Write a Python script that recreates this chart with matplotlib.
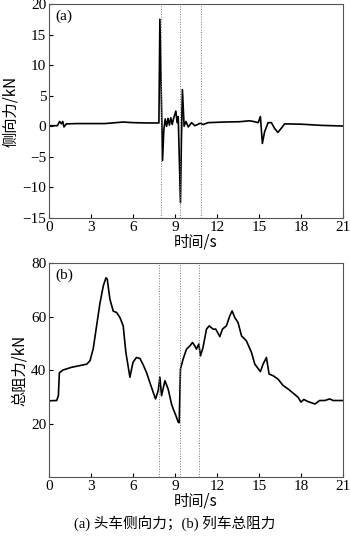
import matplotlib
matplotlib.use("Agg")
import matplotlib.pyplot as plt
import numpy as np

plt.rcParams['font.family'] = ['Liberation Serif', 'Noto Sans CJK SC']
plt.rcParams['mathtext.fontset'] = 'stix'

# (a) lateral force of head car
t_a = [0.0, 0.6, 0.76, 0.88, 0.98, 1.07, 1.24, 2.0, 4.0, 5.3, 6.0, 7.0, 7.85, 7.92, 8.11, 8.2,
       8.3, 8.4, 8.5, 8.6, 8.7, 8.8, 8.9, 9.06, 9.15, 9.23, 9.39, 9.46, 9.53, 9.65, 9.78, 9.95,
       10.18, 10.42, 10.8, 11.0, 11.37, 12.5, 13.6, 14.3, 14.6, 14.94, 15.1, 15.24, 15.4, 15.65,
       15.89, 16.1, 16.35, 16.6, 16.83, 18.0, 19.5, 21.0]
f_a = [0.1, 0.1, 0.8, 0.4, 0.8, -0.1, 0.4, 0.45, 0.45, 0.7, 0.6, 0.55, 0.55, 17.5, -5.6, -0.6,
       1.2, 0.0, 1.3, 0.2, 1.4, 0.3, 1.3, 2.5, 0.6, 1.6, -12.5, -2.0, 6.0, 0.0, 0.8, -0.1,
       0.6, 0.1, 0.5, 0.3, 0.6, 0.7, 0.75, 0.9, 0.8, 0.6, 1.6, -2.8, -0.9, 0.6,
       0.6, -0.3, -1.0, -0.3, 0.4, 0.35, 0.15, 0.05]

# (b) total resistance of train
t_b = [0.0, 0.55, 0.67, 0.74, 1.0, 1.6, 2.7, 2.93, 3.16, 3.4, 3.64, 3.88, 4.07, 4.16, 4.35, 4.59,
       4.83, 5.07, 5.3, 5.49, 5.78, 6.0, 6.25, 6.5, 6.73, 6.97, 7.2, 7.44, 7.61, 7.8, 7.92, 8.04,
       8.28, 8.51, 8.75, 8.87, 9.06, 9.23, 9.3, 9.39, 9.58, 9.82, 10.06, 10.25, 10.42, 10.53, 10.7,
       10.82, 11.0, 11.25, 11.44, 11.72, 11.91, 12.2, 12.39, 12.67, 12.91, 13.08, 13.27, 13.5,
       13.75, 14.1, 14.46, 14.7, 15.1, 15.29, 15.53, 15.72, 16.0, 16.36, 16.72, 17.08, 17.43,
       17.79, 18.0, 18.2, 18.5, 19.0, 19.33, 19.7, 20.05, 20.3, 21.0]
f_b = [28.5, 28.6, 30.4, 39.0, 40.0, 41.0, 42.2, 43.5, 48.0, 56.5, 65.0, 71.5, 74.5, 74.0, 66.5, 62.0,
       61.5, 59.6, 56.5, 46.6, 37.3, 42.9, 44.7, 44.3, 41.9, 39.0, 35.4, 31.7, 29.2, 32.3, 37.3, 30.4,
       36.0, 32.9, 27.3, 25.5, 23.0, 20.5, 20.3, 40.4, 44.1, 47.8, 49.0, 50.3, 49.0, 47.8, 49.7,
       45.3, 48.4, 55.3, 56.5, 55.3, 55.3, 52.5, 55.3, 56.5, 60.2, 62.1, 59.6, 57.8,
       52.8, 50.9, 46.6, 42.2, 39.4, 42.2, 44.7, 38.5, 37.9, 36.6, 34.2, 32.9, 31.4,
       29.8, 28.0, 29.0, 28.2, 27.3, 28.6, 28.6, 29.2, 28.6, 28.6]

vlines_a = [7.97, 9.35, 10.88]
vlines_b = [7.87, 9.37, 10.73]
xticks = [0, 3, 6, 9, 12, 15, 18, 21]
yticks_a = [-15, -10, -5, 0, 5, 10, 15, 20]
yticks_b = [20, 40, 60, 80]

fig = plt.figure(figsize=(3.5, 5.39), dpi=100)
ax1 = fig.add_axes([0.14, 0.5955, 0.84, 0.397])
ax2 = fig.add_axes([0.14, 0.115, 0.84, 0.397])

cjk = ['Noto Sans CJK SC', 'Liberation Serif']

for ax, t, f, vl, yt, ylim, ylab, tag in [
        (ax1, t_a, f_a, vlines_a, yticks_a, (-15, 20), '侧向力/kN', '(a)'),
        (ax2, t_b, f_b, vlines_b, yticks_b, (0, 80), '总阻力/kN', '(b)')]:
    ax.plot(t, f, color='black', lw=1.2)
    for v in vl:
        ax.axvline(v, color='#777777', lw=0.7, ls=':')
    ax.set_xlim(0, 21)
    ax.set_ylim(*ylim)
    ax.set_xticks(xticks)
    ax.set_yticks(yt)
    ax.set_yticklabels([str(v).replace('-', '\u2212') for v in yt])
    ax.tick_params(direction='in', length=3, labelsize=11, width=0.8, pad=2)
    for s in ax.spines.values():
        s.set_linewidth(0.8)
        s.set_color('#555555')
    ax.set_xlabel('时间/s', fontsize=11, family=cjk, labelpad=0)
    ax.set_ylabel(ylab, fontsize=11, family=cjk, labelpad=2)
    ax.text(0.02, 0.975, tag, transform=ax.transAxes, ha='left', va='top', fontsize=11)

fig.text(0.5, 0.03, '(a) 头车侧向力；(b) 列车总阻力', ha='center', va='center',
         fontsize=10.5, family=['Liberation Serif', 'Noto Sans CJK SC'])

fig.savefig('out.png', dpi=100)
